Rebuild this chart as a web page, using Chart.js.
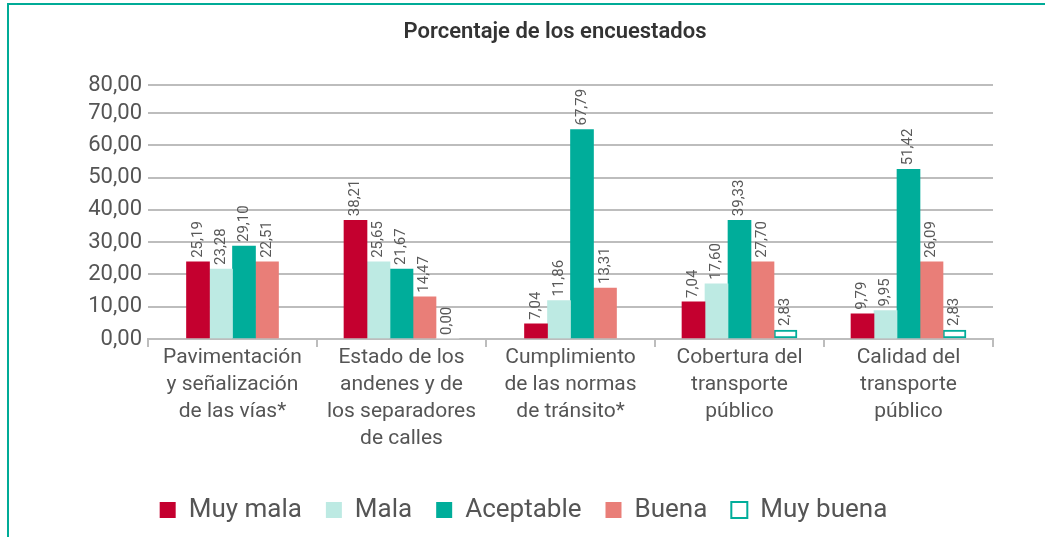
<!DOCTYPE html>
<html>
<head>
<meta charset="utf-8">
<script src="https://cdn.jsdelivr.net/npm/chart.js@4.4.1/dist/chart.umd.min.js"></script>
<style>
  html, body { margin: 0; padding: 0; background: #fff; }
  #wrap { position: relative; width: 1045px; height: 537px; overflow: hidden; }
  #frame { position: absolute; left: 7px; top: 3px; width: 1100px; height: 700px;
           border-top: 2px solid #00ab97; border-left: 2px solid #00ab97; }
  canvas { position: absolute; left: 0; top: 0; }
</style>
</head>
<body>
<div id="wrap">
  <div id="frame"></div>
  <canvas id="chart" width="1045" height="537"></canvas>
</div>
<script>
// categories (multi-line labels)
const categories = [
    ['Pavimentación', 'y señalización', 'de las vías*'],
    ['Estado de los', 'andenes y de', 'los separadores', 'de calles'],
    ['Cumplimiento', 'de las normas', 'de tránsito*'],
    ['Cobertura del', 'transporte', 'público'],
    ['Calidad del', 'transporte', 'público']
];

// bar heights as drawn in the picture
const muyMala    = [23.9, 36.8, 4.7, 11.5, 7.8];
const mala       = [21.7, 23.9, 11.9, 17.1, 8.8];
const aceptable  = [28.8, 21.7, 64.9, 36.8, 52.6];
const buena      = [23.9, 13.1, 15.8, 23.9, 23.9];
const muyBuena   = [null, 0, null, 2.8, 2.8];

// printed value labels
const muyMalaText   = ['25,19', '38,21', '7,04', '7,04', '9,79'];
const malaText      = ['23,28', '25,65', '11,86', '17,60', '9,95'];
const aceptableText = ['29,10', '21,67', '67,79', '39,33', '51,42'];
const buenaText     = ['22,51', '14,47', '13,31', '27,70', '26,09'];
const muyBuenaText  = [null, '0,00', null, '2,83', '2,83'];

// y axis ticks
const yTickValues = [0, 10, 20, 30, 40, 50, 60, 70, 78.7];
const yTickLabels = ['0,00', '10,00', '20,00', '30,00', '40,00', '50,00', '60,00', '70,00', '80,00'];

const valueTexts = [muyMalaText, malaText, aceptableText, buenaText, muyBuenaText];

const FONT = 'Roboto, "Liberation Sans", sans-serif';

// draws rotated value labels above each bar
const valueLabels = {
    id: 'valueLabels',
    afterDatasetsDraw(chart) {
        const ctx = chart.ctx;
        ctx.save();
        ctx.font = '15px ' + FONT;
        ctx.fillStyle = '#595959';
        ctx.textAlign = 'left';
        ctx.textBaseline = 'middle';
        chart.data.datasets.forEach((ds, i) => {
            const meta = chart.getDatasetMeta(i);
            meta.data.forEach((bar, j) => {
                const txt = valueTexts[i][j];
                if (txt == null) return;
                ctx.save();
                ctx.translate(bar.x, bar.y - 4);
                ctx.rotate(-Math.PI / 2);
                ctx.fillText(txt, 0, 0);
                ctx.restore();
            });
        });
        ctx.restore();
    }
};

// title drawn at a fixed spot (not centred on the canvas in the original)
const titleText = {
    id: 'titleText',
    afterDraw(chart) {
        const ctx = chart.ctx;
        ctx.save();
        ctx.font = '600 22px ' + FONT;
        ctx.fillStyle = '#333333';
        ctx.textAlign = 'center';
        ctx.textBaseline = 'middle';
        ctx.fillText('Porcentaje de los encuestados', 555, 32);
        ctx.restore();
    }
};

const ctx = document.getElementById('chart').getContext('2d');
new Chart(ctx, {
    type: 'bar',
    data: {
        labels: categories,
        datasets: [
            { label: 'Muy mala', data: muyMala, backgroundColor: '#c4002f', borderWidth: 0 },
            { label: 'Mala', data: mala, backgroundColor: '#bdeae3', borderWidth: 0 },
            { label: 'Aceptable', data: aceptable, backgroundColor: '#00ad9a', borderWidth: 0 },
            { label: 'Buena', data: buena, backgroundColor: '#e97e78', borderWidth: 0 },
            {
                label: 'Muy buena', data: muyBuena, backgroundColor: '#ffffff', borderColor: '#00ad9a',
                borderWidth: c => (c.raw === 0 ? 0 : 2), borderSkipped: false
            }
        ]
    },
    options: {
        responsive: false,
        animation: false,
        skipNull: true,
        barThickness: 23,
        layout: { padding: { left: 54, right: 52, top: 85, bottom: 4 } },
        scales: {
            x: {
                offset: true,
                grid: { display: true, drawOnChartArea: false, drawTicks: true, tickLength: 8, color: '#bdbdbd', lineWidth: 2, offset: true },
                border: { display: true, color: '#bdbdbd', width: 2 },
                ticks: { color: '#555555', font: { family: FONT, size: 21, lineHeight: 1.29 }, padding: -3, maxRotation: 0, autoSkip: false },
                afterFit: scale => { scale.height = 134; }
            },
            y: {
                min: 0,
                max: 78.7,
                afterBuildTicks: scale => { scale.ticks = yTickValues.map(v => ({ value: v })); },
                grid: { color: '#bdbdbd', lineWidth: 2, drawTicks: false },
                border: { display: false },
                ticks: {
                    color: '#555555', font: { family: FONT, size: 22 }, padding: 6,
                    callback: (v, i) => yTickLabels[i]
                },
                afterFit: scale => { scale.width = 94; }
            }
        },
        plugins: {
            title: { display: false },
            tooltip: { enabled: false },
            legend: {
                position: 'bottom',
                labels: { color: '#555555', font: { family: FONT, size: 26 }, boxWidth: 16, boxHeight: 16, padding: 24 }
            }
        }
    },
    plugins: [valueLabels, titleText]
});
</script>
</body>
</html>
